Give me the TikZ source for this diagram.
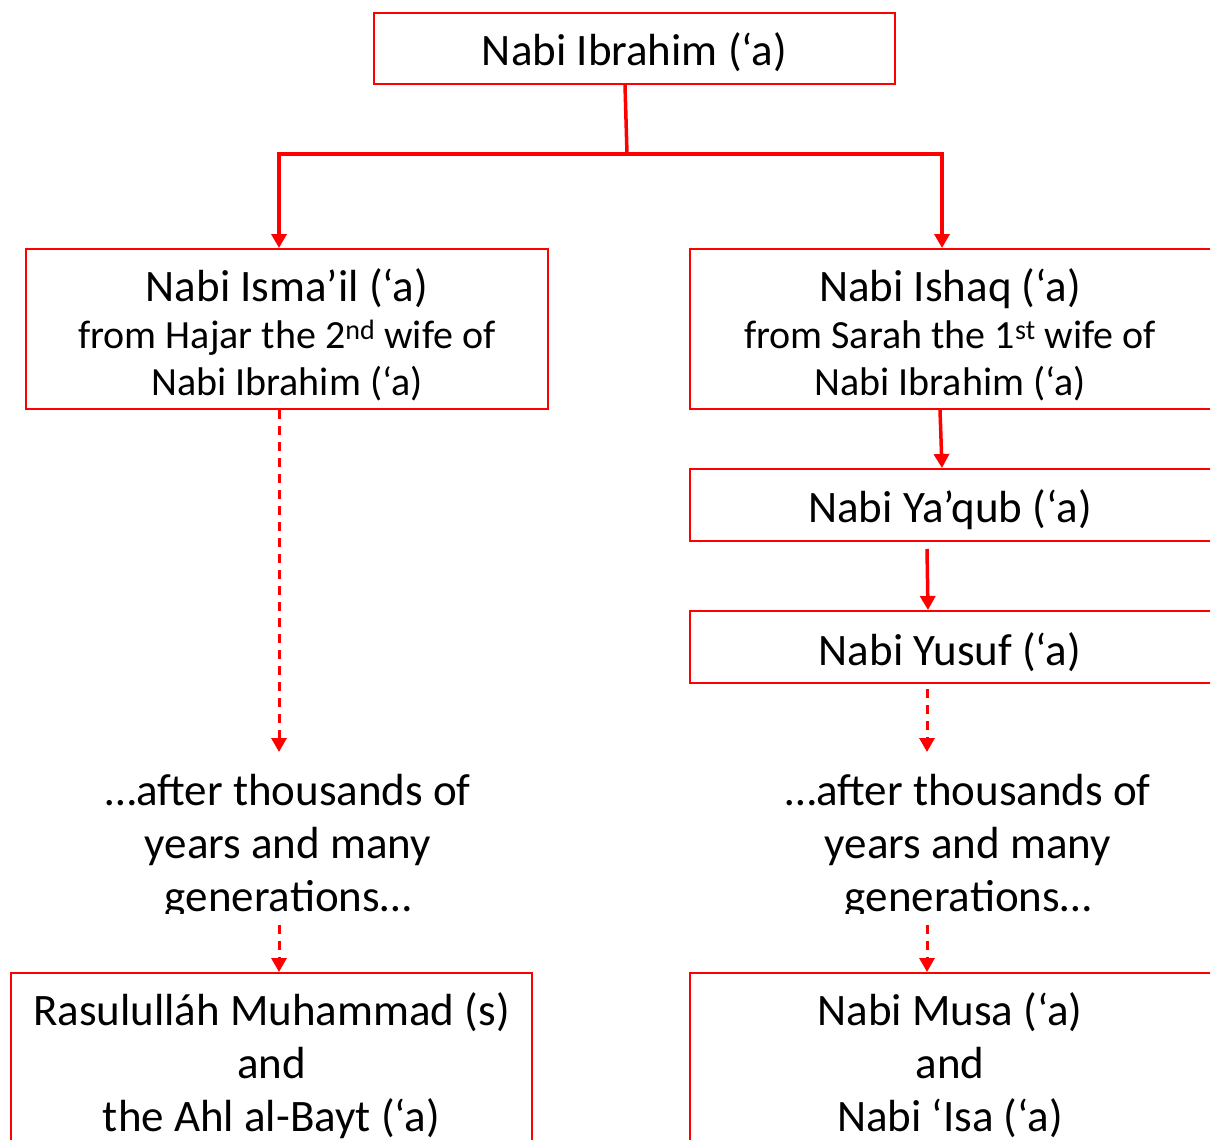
\documentclass[tikz,border=0pt]{standalone}
\usepackage{fontspec}
\setmainfont{Carlito}
\usetikzlibrary{arrows.meta}
\begin{document}
\begin{tikzpicture}[x=1pt,y=-1pt,
  box/.style={draw=red, line width=2pt, rectangle, inner sep=0pt},
  txt/.style={align=center, inner sep=0pt},
  big/.style={font=\fontsize{45}{53}\selectfont},
  mixed/.style={font=\fontsize{40}{47}\selectfont},
  link/.style={draw=red, line width=3.5pt},
  dlink/.style={draw=red, line width=3pt, dash pattern=on 9pt off 7pt},
  tip/.style={-{Triangle[length=14pt,width=15pt]}, red}]
\useasboundingbox (0,0) rectangle (1210,1140);

% boxes
\node[box, minimum width=521pt, minimum height=71pt] (ibr) at (634.5,48.5) {};
\node[box, minimum width=522pt, minimum height=160pt] (ism) at (287,329) {};
\node[box, minimum width=526pt, minimum height=160pt] (ish) at (953,329) {};
\node[box, minimum width=526pt, minimum height=72pt] (yaq) at (953,505) {};
\node[box, minimum width=526pt, minimum height=72pt] (yus) at (953,647) {};
\node[box, minimum width=521pt, minimum height=187pt] (ras) at (271.5,1066.5) {};
\node[box, minimum width=526pt, minimum height=187pt] (mus) at (953,1066.5) {};

% box texts
\node[txt, big] (ibrt) at ([yshift=-4pt]ibr.center) {Nabi Ibrahim (‘a)};
\node[txt, mixed] (ismt) at ([yshift=-6pt]ism.center)
  {{\fontsize{45}{47}\selectfont Nabi Isma’il (‘a)}\\from Hajar the 2\textsuperscript{nd} wife of\\Nabi Ibrahim (‘a)};
\node[txt, mixed] (isht) at ([xshift=-3pt,yshift=-6pt]ish.center)
  {{\fontsize{45}{47}\selectfont Nabi Ishaq (‘a)}\\from Sarah the 1\textsuperscript{st} wife of\\Nabi Ibrahim (‘a)};
\node[txt, big] (yaqt) at ([xshift=-3pt,yshift=-5pt]yaq.center) {Nabi Ya’qub (‘a)};
\node[txt, big] (yust) at ([xshift=-3pt,yshift=-5pt]yus.center) {Nabi Yusuf (‘a)};
\node[txt, big] (rast) at ([yshift=1pt]ras.center) {Rasululláh Muhammad (s)\\and\\the Ahl al-Bayt (‘a)};
\node[txt, big] (must) at ([xshift=-3pt,yshift=1pt]mus.center) {Nabi Musa (‘a)\\and\\Nabi ‘Isa (‘a)};

% clipped free texts
\begin{scope}
  \clip (0,740) rectangle (1210,913);
  \node[txt, big] (lgap) at (288,847) {…after thousands of\\years and many\\generations…};
  \node[txt, big] (rgap) at (968,847) {…after thousands of\\years and many\\generations…};
\end{scope}

% junction coordinates
\coordinate (j) at (627,154);
\coordinate (jl) at (279,154);
\coordinate (jr) at (942,154);
\coordinate (la) at (279,752);
\coordinate (ra) at (927,752);
\coordinate (lb) at (279,925);
\coordinate (rb) at (927,925);

% connectors
\draw[link] ([xshift=-9.5pt]ibr.south) -- (j);
\draw[link] ([xshift=-1.75pt]jl) -- ([xshift=1.75pt]jr);
\draw[link, tip] (jl) -- (jl |- ism.north);
\draw[link, tip] (jr) -- (jr |- ish.north);
\draw[link, tip] ([xshift=-13pt]ish.south) -- ([xshift=-11pt]yaq.north);
\draw[link, tip] ([xshift=-26pt,yshift=-7pt]yaq.south) -- ([xshift=-25pt]yus.north);
\draw[dlink, tip] (ism.south -| la) -- (la);
\draw[dlink, tip] ([yshift=-5pt]yus.south -| ra) -- (ra);
\draw[dlink, tip] (lb) -- (lb |- ras.north);
\draw[dlink, tip] (rb) -- (rb |- mus.north);
\end{tikzpicture}
\end{document}
